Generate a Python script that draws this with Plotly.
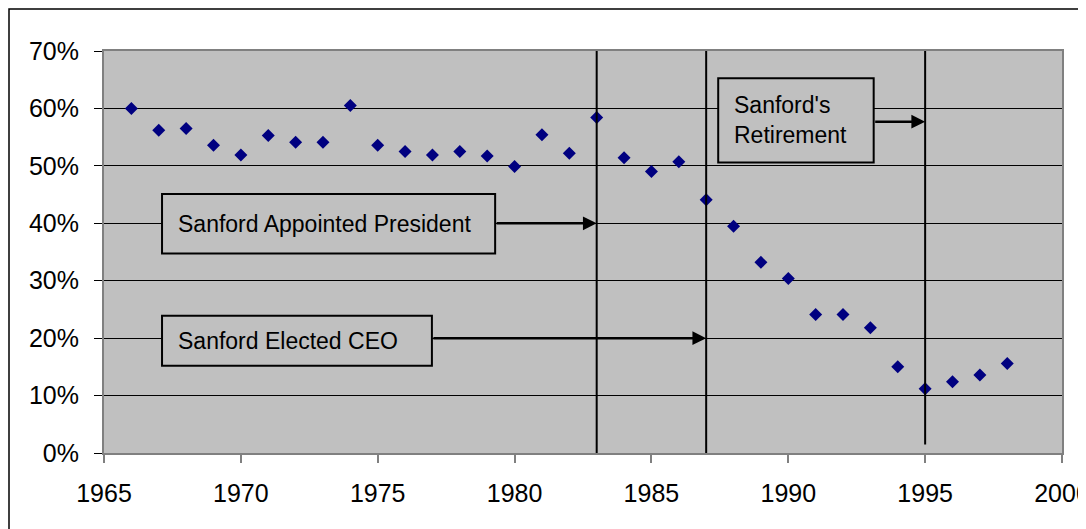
import plotly.graph_objects as go

# ---- data ----
years = list(range(1966, 1999))
values = [60.0, 56.2, 56.5, 53.6, 51.9, 55.3, 54.1, 54.1, 60.5, 53.6,
          52.5, 51.9, 52.5, 51.7, 49.9, 55.4, 52.2, 58.4, 51.4, 49.0,
          50.7, 44.1, 39.5, 33.2, 30.4, 24.1, 24.1, 21.8, 15.0, 11.2,
          12.4, 13.6, 15.6]

event_years = [1983, 1987, 1995]
event_line_bottoms = [0, 0, 1.5]
event_labels = ["Sanford Appointed President", "Sanford Elected CEO", "Sanford's<br>Retirement"]
arrow_levels = [40, 20, 57.7]
# label boxes: (x0, x1, y0, y1) in axis units
label_boxes = [(1967.12, 1979.29, 34.75, 45.1),
               (1967.12, 1976.98, 15.2, 23.9),
               (1987.44, 1993.12, 50.6, 65.25)]

x_ticks = [1965, 1970, 1975, 1980, 1985, 1990, 1995, 2000]
y_ticks = [0, 10, 20, 30, 40, 50, 60, 70]

FONT = "Arial, 'Liberation Sans', sans-serif"
PLOT_BG = "#C0C0C0"

fig = go.Figure()
fig.add_trace(go.Scatter(
    x=years, y=values, mode="markers",
    marker=dict(symbol="diamond", size=10, color="#000080", line=dict(width=0)),
    showlegend=False, hoverinfo="x+y",
))

shapes = []
annotations = []

# vertical event lines
for yr, bottom in zip(event_years, event_line_bottoms):
    shapes.append(dict(type="line", xref="x", yref="y", x0=yr, x1=yr, y0=bottom, y1=70,
                       line=dict(color="black", width=2), layer="above"))

# label boxes, texts and arrows
for (x0, x1, y0, y1), label, yr, lvl in zip(label_boxes, event_labels, event_years, arrow_levels):
    shapes.append(dict(type="rect", xref="x", yref="y", x0=x0, x1=x1, y0=y0, y1=y1,
                       fillcolor=PLOT_BG, line=dict(color="black", width=2), layer="above"))
    annotations.append(dict(x=x0, y=(y0 + y1) / 2, xref="x", yref="y", text=label,
                            showarrow=False, xanchor="left", yanchor="middle", align="left",
                            xshift=14, font=dict(family=FONT, size=23, color="black")))
    annotations.append(dict(x=yr, y=lvl, xref="x", yref="y", ax=x1, ay=lvl,
                            axref="x", ayref="y", text="", showarrow=True,
                            arrowhead=2, arrowsize=1.1, arrowwidth=2.5, arrowcolor="black",
                            standoff=0, startstandoff=0))

# outer chart border (left and top edges visible)
shapes.append(dict(type="rect", xref="paper", yref="paper",
                   x0=-95 / 958, x1=1.2, y0=-0.4, y1=(453 - 9) / 402,
                   line=dict(color="black", width=1.5), fillcolor="rgba(0,0,0,0)", layer="above"))

# the page body adds an 8px margin, so the figure is sized to fit the window
fig.update_layout(
    width=1078, height=521,
    margin=dict(l=96, r=24, t=43, b=76, pad=0, autoexpand=False),
    paper_bgcolor="white", plot_bgcolor=PLOT_BG,
    font=dict(family=FONT, size=25, color="black"),
    shapes=shapes, annotations=annotations,
    xaxis=dict(range=[1965, 2000], tickvals=x_ticks, ticktext=[str(t) for t in x_ticks],
               showgrid=False, zeroline=False, automargin=False,
               showline=True, linecolor="#808080", linewidth=2, mirror=True,
               ticks="outside", ticklen=8, tickcolor="#808080", tickwidth=1.5,
               ticklabelstandoff=9, ticklabeloverflow="allow",
               tickfont=dict(size=25, family=FONT, color="black")),
    yaxis=dict(range=[0, 70], tickvals=y_ticks, ticktext=[f"{t}%" for t in y_ticks],
               showgrid=True, gridcolor="black", gridwidth=1, zeroline=False, automargin=False,
               showline=True, linecolor="#808080", linewidth=2, mirror=True,
               ticks="outside", ticklen=8, tickcolor="black", tickwidth=1,
               ticklabelstandoff=10, tickfont=dict(size=25, family=FONT, color="black")),
)

fig.write_html("out.html")
